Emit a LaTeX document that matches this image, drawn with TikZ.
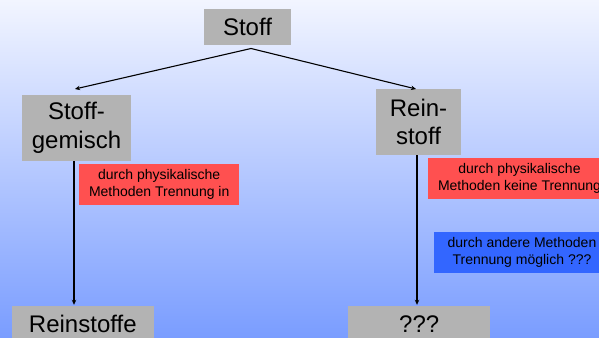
\documentclass[tikz,border=0pt]{standalone}
\usepackage{fontspec}
\setmainfont{Liberation Sans}
\usetikzlibrary{arrows.meta}
\definecolor{bgtop}{HTML}{F2F5FF}
\definecolor{bgbot}{HTML}{7A9DFF}
\definecolor{boxgray}{HTML}{B3B3B3}
\definecolor{boxred}{HTML}{FF5050}
\definecolor{boxblue}{HTML}{3366FF}
\begin{document}
\begin{tikzpicture}[x=1pt,y=-1pt,
  bigbox/.style={fill=boxgray, inner sep=0pt, align=center, font=\fontsize{24}{28.8}\selectfont},
  notebox/.style={inner sep=0pt, align=center, font=\fontsize{14}{17.3}\selectfont},
  arr/.style={line width=1.1pt, -{Stealth[length=5pt,width=4.5pt]}}]
\useasboundingbox (0,0) rectangle (599,337);
\clip (0,0) rectangle (599,337);
\shade[top color=bgtop, bottom color=bgbot] (0,0) rectangle (599,337);

\node[bigbox, minimum width=87pt, minimum height=36pt] (stoff) at (247.5,27) {Stoff};
\node[bigbox, minimum width=109pt, minimum height=66pt] (sg) at (76.5,128) {Stoff-\\gemisch};
\node[bigbox, minimum width=85pt, minimum height=66pt] (rst) at (418.5,122) {Rein-\\stoff};
\node[bigbox, minimum width=142.5pt, minimum height=36pt] (rse) at (82.8,324) {Reinstoffe};
\node[bigbox, minimum width=142.5pt, minimum height=36pt] (q) at (419.2,324) {???};

\node[notebox, fill=boxred, minimum width=160.5pt, minimum height=41pt] (n1) at (159.2,184.5) {durch physikalische\\Methoden Trennung in};
\node[notebox, fill=boxred, minimum width=183pt, minimum height=41pt] (n2) at (519.5,178.5) {durch physikalische\\Methoden keine Trennung};
\node[notebox, fill=boxblue, minimum width=176pt, minimum height=41pt] (n3) at (522,252.5) {durch andere Methoden\\Trennung möglich ???};

\coordinate (apex) at (251,48.5);
\coordinate (sgtip) at (75,89);
\coordinate (rsttip) at (416,89);
\coordinate (lx) at (74,0);
\coordinate (rx) at (417,0);
\draw[arr] (apex) -- (sgtip);
\draw[arr] (apex) -- (rsttip);
\draw[arr] (sg.south -| lx) -- ([yshift=1pt]rse.north -| lx);
\draw[arr] (rst.south -| rx) -- ([yshift=1pt]q.north -| rx);
\end{tikzpicture}
\end{document}
